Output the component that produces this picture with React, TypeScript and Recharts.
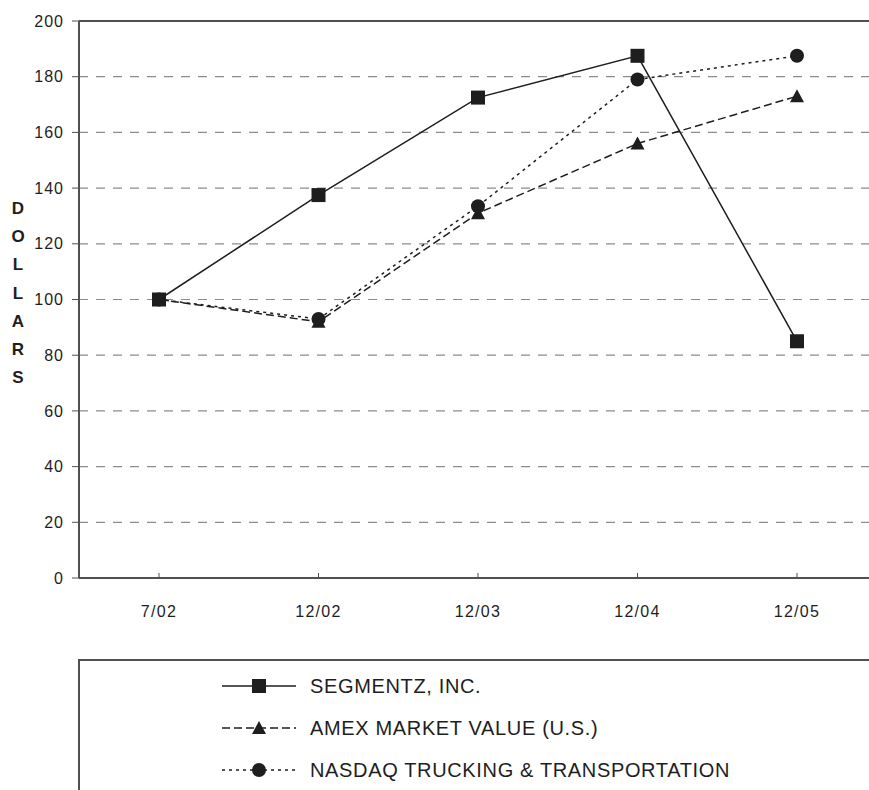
import React from "react";
import {
  CartesianGrid,
  Label,
  Line,
  LineChart,
  ReferenceLine,
  XAxis,
  YAxis,
} from "recharts";

const periods = ["7/02", "12/02", "12/03", "12/04", "12/05"];
const segmentz = [100, 137.5, 172.5, 187.5, 85];
const amex = [100, 92, 131, 156, 173];
const nasdaq = [100, 93, 133.5, 179, 187.5];
const yTicks = [0, 20, 40, 60, 80, 100, 120, 140, 160, 180, 200];

const data = periods.map((period, i) => ({
  period,
  segmentz: segmentz[i],
  amex: amex[i],
  nasdaq: nasdaq[i],
}));

const FONT = "'Liberation Sans', Arial, sans-serif";
const INK = "#1e1e1e";
const AXIS = "#505050";

const series = [
  { key: "segmentz", name: "SEGMENTZ, INC.", dash: undefined, shape: "square" },
  { key: "amex", name: "AMEX MARKET VALUE (U.S.)", dash: "8 4", shape: "triangle" },
  { key: "nasdaq", name: "NASDAQ TRUCKING & TRANSPORTATION", dash: "3 4", shape: "circle" },
];

function Marker({ shape, cx, cy }: { shape: string; cx: number; cy: number }) {
  if (shape === "square") {
    return <rect x={cx - 7} y={cy - 7} width={14} height={14} fill={INK} />;
  }
  if (shape === "triangle") {
    return (
      <polygon
        points={`${cx},${cy - 7} ${cx - 7},${cy + 6} ${cx + 7},${cy + 6}`}
        fill={INK}
      />
    );
  }
  return <circle cx={cx} cy={cy} r={7} fill={INK} />;
}

const makeDot = (shape: string) => (props: any) => {
  const { cx, cy, index } = props;
  if (cx == null || cy == null) return <g key={index} />;
  return (
    <g key={`${shape}-${index}`}>
      <Marker shape={shape} cx={cx} cy={cy} />
    </g>
  );
};

function PeriodTick({ x, y, payload }: any) {
  return (
    <g>
      <line x1={x} y1={y} x2={x} y2={y - 5} stroke={AXIS} strokeWidth={1} />
      <text
        x={x}
        y={y + 39}
        textAnchor="middle"
        fontFamily={FONT}
        fontSize={16}
        letterSpacing={1.3}
        fill={INK}
      >
        {payload.value}
      </text>
    </g>
  );
}

function DollarsLabel({ viewBox }: any) {
  const letters = "DOLLARS".split("");
  const cx = viewBox.x - 1;
  const start = 214;
  return (
    <text
      x={cx}
      y={start}
      textAnchor="middle"
      fontFamily={FONT}
      fontWeight="bold"
      fontSize={17}
      fill={INK}
    >
      {letters.map((ch, i) => (
        <tspan key={i} x={cx} y={start + i * 28.2}>
          {ch}
        </tspan>
      ))}
    </text>
  );
}

function LegendBox() {
  return (
    <div
      style={{
        position: "absolute",
        left: 78,
        top: 659,
        width: 900,
        height: 200,
        border: `2px solid ${AXIS}`,
        boxSizing: "border-box",
        background: "#fff",
      }}
    >
      <svg width={800} height={140} style={{ display: "block" }}>
        {series.map((s, i) => {
          const y = 25 + i * 42;
          return (
            <g key={s.key}>
              <line
                x1={142}
                x2={216}
                y1={y}
                y2={y}
                stroke={INK}
                strokeWidth={1.5}
                strokeDasharray={s.dash}
              />
              <Marker shape={s.shape} cx={179} cy={y} />
              <text
                x={230}
                y={y + 7}
                fontFamily={FONT}
                fontSize={20}
                letterSpacing={0.65}
                fill={INK}
              >
                {s.name}
              </text>
            </g>
          );
        })}
      </svg>
    </div>
  );
}

export default function App() {
  return (
    <div
      style={{
        position: "absolute",
        left: 0,
        top: 0,
        width: 869,
        height: 790,
        overflow: "hidden",
        background: "#fff",
      }}
    >
      <LineChart
        width={900}
        height={790}
        data={data}
        margin={{ top: 21, right: 23, left: 19, bottom: 182 }}
      >
        <CartesianGrid
          vertical={false}
          stroke="#8c8c8c"
          strokeDasharray="9 8"
          strokeWidth={1.2}
        />
        <XAxis
          dataKey="period"
          height={30}
          padding={{ left: 80, right: 80 }}
          tickLine={false}
          tickSize={0}
          tickMargin={0}
          axisLine={{ stroke: AXIS, strokeWidth: 2 }}
          tick={<PeriodTick />}
          interval={0}
        />
        <YAxis
          domain={[0, 200]}
          ticks={yTicks}
          width={60}
          tickSize={7}
          tickMargin={8}
          tickLine={{ stroke: AXIS }}
          axisLine={{ stroke: AXIS, strokeWidth: 2 }}
          tick={{ fontFamily: FONT, fontSize: 16, fill: INK, letterSpacing: 1 }}
          interval={0}
        >
          <Label content={<DollarsLabel />} />
        </YAxis>
        <ReferenceLine y={200} stroke={AXIS} strokeWidth={2} />
        {series.map((s) => (
          <Line
            key={s.key}
            type="linear"
            dataKey={s.key}
            name={s.name}
            stroke={INK}
            strokeWidth={1.5}
            strokeDasharray={s.dash}
            dot={makeDot(s.shape)}
            activeDot={false}
            isAnimationActive={false}
          />
        ))}
      </LineChart>
      <LegendBox />
    </div>
  );
}
